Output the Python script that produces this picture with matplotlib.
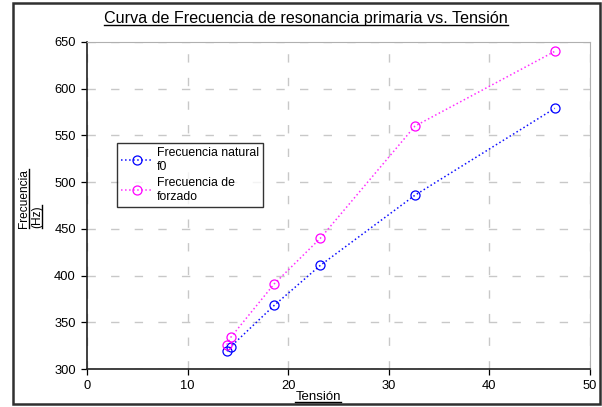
import numpy as np
import matplotlib
matplotlib.use('Agg')
import matplotlib.pyplot as plt
from matplotlib.lines import Line2D
from matplotlib.patches import Rectangle

plt.rcParams['font.family'] = ['Liberation Sans', 'DejaVu Sans']

# datos
tension = [13.9, 14.3, 18.6, 23.2, 32.6, 46.5]
f_natural = [319, 324, 368, 411, 486, 579]
f_forzado = [326, 334, 391, 440, 560, 640]

titulo = 'Curva de Frecuencia de resonancia primaria vs. Tensión'
xlab = 'Tensión'
ylab = ['Frecuencia', '(Hz)']
leyenda = ['Frecuencia natural\nf0', 'Frecuencia de\nforzado']
xticks = [0, 10, 20, 30, 40, 50]
yticks = [300, 350, 400, 450, 500, 550, 600, 650]

fig = plt.figure(figsize=(6.02, 4.07), dpi=100)
ax = fig.add_axes([87/602, 1-369/407, (590-87)/602, (369-42)/407])

ax.plot(tension, f_natural, ls=':', color='#1010ff', lw=1.1, marker='o',
        mfc='none', mec='#0000ff', ms=6.5, mew=0.9, label=leyenda[0])
ax.plot(tension, f_forzado, ls=':', color='#ff30ff', lw=1.1, marker='o',
        mfc='none', mec='#ff00ff', ms=6.5, mew=0.9, label=leyenda[1])

ax.set_xlim(0, 50)
ax.set_ylim(300, 650)
ax.set_xticks(xticks)
ax.set_yticks(yticks)
ax.tick_params(direction='out', length=4, width=0.9, labelsize=9.3, pad=4)
ax.grid(True, color='#c8c8c8', ls=(0, (6, 11)), lw=1)
ax.set_axisbelow(True)
for s in ['top', 'right']:
    ax.spines[s].set_color('#b0b0b0')
for s in ['left', 'bottom']:
    ax.spines[s].set_color('#202020')
    ax.spines[s].set_linewidth(1.2)

leg = ax.legend(loc='upper left', bbox_to_anchor=((117-87)/503, 1-(143-42)/327),
                fontsize=8.8, frameon=True, fancybox=False, borderpad=0.35,
                handlelength=2.5, labelspacing=0.35, borderaxespad=0, handletextpad=0.4)
leg.get_frame().set_edgecolor('black')
leg.get_frame().set_linewidth(1.0)

# marco exterior de la figura
fig.patches.append(Rectangle((13/602, 1-404/407), 587/602, 401/407, transform=fig.transFigure,
                             fill=False, ec='#303030', lw=1.8))

t1 = fig.text(306/602, 1-18/407, titulo, ha='center', va='center', fontsize=11.6)
t2 = fig.text(318/602, 1-397/407, xlab, ha='center', va='center', fontsize=9.5)
t3 = fig.text(24/602, 1-228/407, ylab[0], ha='center', va='bottom', fontsize=8.6, rotation=90)
t4 = fig.text(37/602, 1-228/407, ylab[1], ha='center', va='bottom', fontsize=8.6, rotation=90)

fig.canvas.draw()
r = fig.canvas.get_renderer()
W, H = fig.get_size_inches() * fig.dpi
for t in [t1, t2]:
    bb = t.get_window_extent(r)
    y = bb.y0 + 1
    fig.add_artist(Line2D([bb.x0/W, bb.x1/W], [y/H, y/H], transform=fig.transFigure,
                          color='black', lw=1))
for t in [t3, t4]:
    bb = t.get_window_extent(r)
    x = bb.x1 - 1
    fig.add_artist(Line2D([x/W, x/W], [bb.y0/H, bb.y1/H], transform=fig.transFigure,
                          color='black', lw=1))

fig.savefig('out.png', dpi=100)
